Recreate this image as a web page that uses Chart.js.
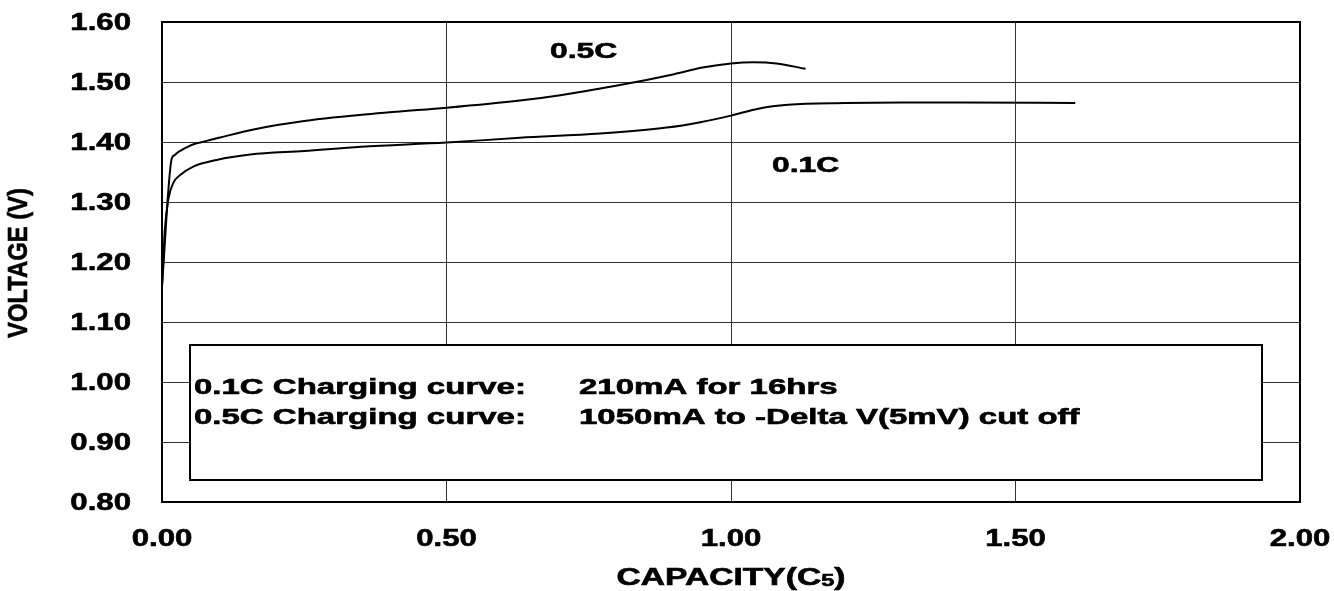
<!DOCTYPE html>
<html>
<head>
<meta charset="utf-8">
<script src="https://cdn.jsdelivr.net/npm/chart.js@4"></script>
<style>
  html, body { margin: 0; padding: 0; background: #fff; }
  #myChart { display: block; }
</style>
</head>
<body>
<canvas id="myChart" width="1334" height="591"></canvas>
<script>
"use strict";
// 0.5C charge curve
const capacity05 = [0, 0.017, 0.022, 0.028, 0.035, 0.045, 0.058, 0.075, 0.1, 0.161, 0.25, 0.395, 0.5, 0.629, 0.7, 0.8, 0.9, 0.95, 1.0, 1.04, 1.08, 1.131];
const voltage05 = [1.16, 1.372, 1.378, 1.383, 1.387, 1.392, 1.397, 1.401, 1.407, 1.421, 1.435, 1.449, 1.457, 1.469, 1.478, 1.494, 1.513, 1.524, 1.531, 1.533, 1.531, 1.522];
// 0.1C charge curve
const capacity01 = [0, 0.005, 0.011, 0.02, 0.032, 0.055, 0.096, 0.155, 0.25, 0.35, 0.5, 0.629, 0.77, 0.887, 0.946, 1.0, 1.05, 1.1, 1.2, 1.3, 1.4, 1.605];
const voltage01 = [1.16, 1.254, 1.304, 1.332, 1.345, 1.359, 1.37, 1.379, 1.385, 1.392, 1.399, 1.407, 1.414, 1.424, 1.433, 1.444, 1.456, 1.462, 1.465, 1.466, 1.466, 1.465];

const xTickLabels = ["0.00", "0.50", "1.00", "1.50", "2.00"];
const yTickLabels = ["0.80", "0.90", "1.00", "1.10", "1.20", "1.30", "1.40", "1.50", "1.60"];
const noteLines = [
    ["0.1C Charging curve:", "210mA for 16hrs"],
    ["0.5C Charging curve:", "1050mA to -Delta V(5mV) cut off"]
];
const FONT = '"Liberation Sans", Arial, sans-serif';

function toPoints(xs, ys) {
    return xs.map((x, i) => ({ x: x, y: ys[i] }));
}

// bold text squeezed or stretched horizontally
function wideText(ctx, text, x, y, size, sx, align) {
    ctx.save();
    ctx.translate(x, y);
    ctx.scale(sx, 1);
    ctx.font = "bold " + size + "px " + FONT;
    ctx.fillStyle = "#000";
    ctx.strokeStyle = "#000";
    ctx.lineWidth = 0.6;
    ctx.textAlign = align;
    ctx.textBaseline = "middle";
    ctx.fillText(text, 0, 0);
    ctx.strokeText(text, 0, 0);
    ctx.restore();
}

const notePlugin = {
    id: "notes",
    beforeDatasetsDraw(chart) {
        const ctx = chart.ctx;
        // note box covers the grid
        ctx.save();
        ctx.fillStyle = "#fff";
        ctx.fillRect(190, 345, 1072, 135);
        ctx.strokeStyle = "#000";
        ctx.lineWidth = 2;
        ctx.strokeRect(190, 345, 1072, 135);
        ctx.restore();
        noteLines.forEach((line, i) => {
            const y = 388 + i * 30;
            wideText(ctx, line[0], 194, y, 22, 1.5, "left");
            wideText(ctx, line[1], 579, y, 22, 1.5, "left");
        });
    },
    afterDraw(chart) {
        const ctx = chart.ctx;
        const area = chart.chartArea;
        const xs = chart.scales.x;
        const ys = chart.scales.y;
        ctx.save();
        ctx.strokeStyle = "#000";
        ctx.lineWidth = 2;
        ctx.strokeRect(area.left, area.top, area.right - area.left, area.bottom - area.top);
        ctx.restore();

        yTickLabels.forEach(t => {
            wideText(ctx, t, 131, ys.getPixelForValue(parseFloat(t)) + 1, 24, 1.3, "right");
        });
        xTickLabels.forEach(t => {
            wideText(ctx, t, xs.getPixelForValue(parseFloat(t)), 539, 24, 1.3, "center");
        });

        wideText(ctx, "0.5C", 550, 52, 22, 1.45, "left");
        wideText(ctx, "0.1C", 772, 166, 22, 1.45, "left");

        // x axis title with subscript
        ctx.save();
        ctx.font = "bold 23px " + FONT;
        const w1 = ctx.measureText("CAPACITY(C").width;
        const w3 = ctx.measureText(")").width;
        ctx.font = "bold 16px " + FONT;
        const w2 = ctx.measureText("5").width;
        ctx.restore();
        const sx = 1.46;
        const total = (w1 + w2 + w3) * sx;
        let left = xs.getPixelForValue(1.0) - total / 2;
        wideText(ctx, "CAPACITY(C", left, 579, 23, sx, "left");
        left += w1 * sx;
        wideText(ctx, "5", left, 582, 16, sx, "left");
        left += w2 * sx;
        wideText(ctx, ")", left, 579, 23, sx, "left");

        // y axis title
        ctx.save();
        ctx.translate(19, 263);
        ctx.rotate(-Math.PI / 2);
        wideText(ctx, "VOLTAGE (V)", 0, 0, 28, 0.85, "center");
        ctx.restore();
    }
};

new Chart(document.getElementById("myChart"), {
    type: "line",
    data: {
        datasets: [{
                label: "0.5C",
                data: toPoints(capacity05, voltage05),
                borderColor: "#000",
                borderWidth: 2,
                pointRadius: 0,
                cubicInterpolationMode: "monotone"
            }, {
                label: "0.1C",
                data: toPoints(capacity01, voltage01),
                borderColor: "#000",
                borderWidth: 2,
                pointRadius: 0,
                cubicInterpolationMode: "monotone"
            }]
    },
    options: {
        responsive: false,
        animation: false,
        layout: { padding: { left: 162, top: 22, right: 34, bottom: 89 } },
        plugins: {
            legend: { display: false },
            tooltip: { enabled: false }
        },
        scales: {
            x: {
                type: "linear",
                min: 0,
                max: 2,
                ticks: { stepSize: 0.5, display: false },
                grid: { color: "#333", lineWidth: 1, drawTicks: false },
                border: { display: false }
            },
            y: {
                min: 0.8,
                max: 1.6,
                ticks: { stepSize: 0.1, display: false },
                grid: { color: "#333", lineWidth: 1, drawTicks: false },
                border: { display: false }
            }
        }
    },
    plugins: [notePlugin]
});
</script>
</body>
</html>
